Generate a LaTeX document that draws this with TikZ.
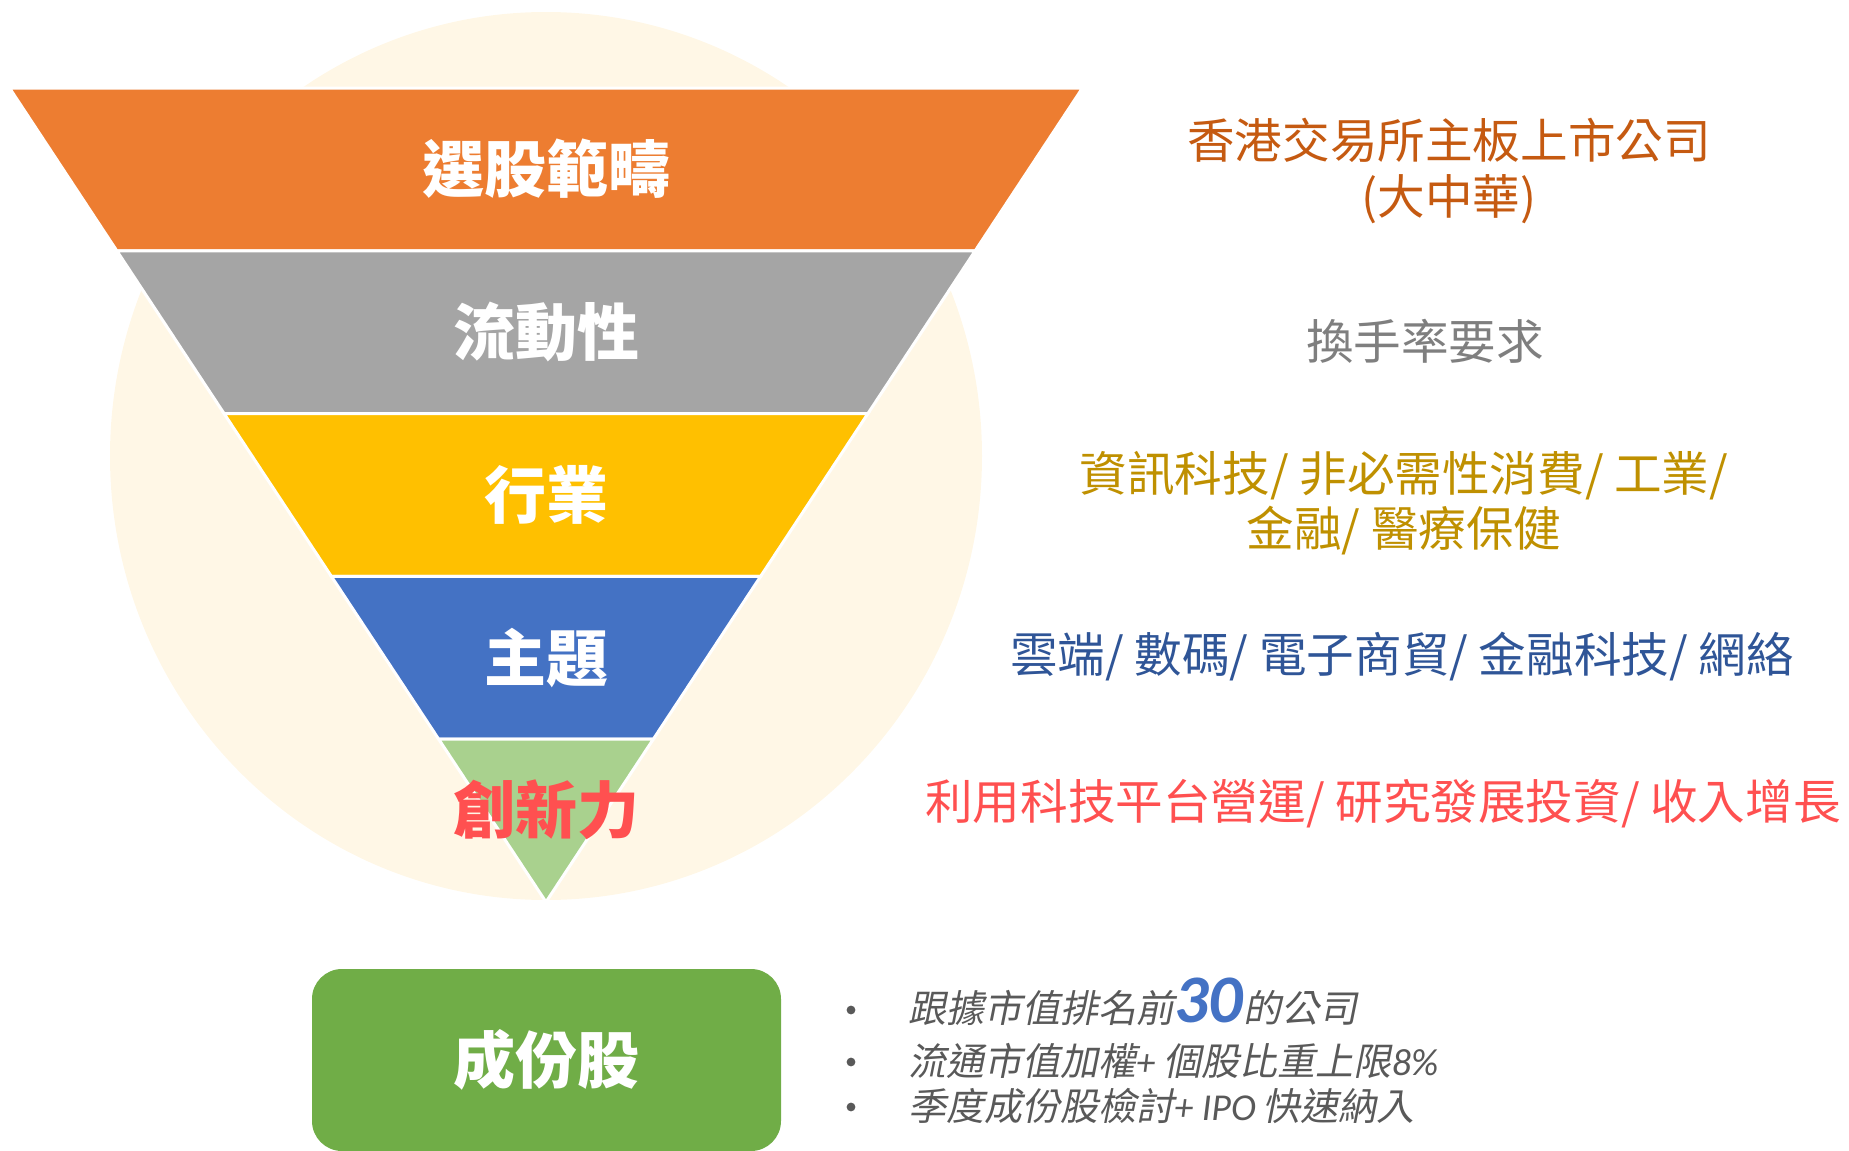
\documentclass[tikz,border=0pt]{standalone}
\usepackage{fontspec}
\setmainfont{Noto Sans CJK TC}
\newfontfamily\cjk{Noto Sans CJK TC}
\newfontfamily\cjkit[FakeSlant=0.2]{Noto Sans CJK TC}
\newfontfamily\calfont{Carlito}
\definecolor{cream}{HTML}{FFF7E6}
\definecolor{bOrange}{HTML}{ED7D31}
\definecolor{bGray}{HTML}{A5A5A5}
\definecolor{bYellow}{HTML}{FFC000}
\definecolor{bBlue}{HTML}{4472C4}
\definecolor{bGreen}{HTML}{A9D18E}
\definecolor{boxGreen}{HTML}{70AD47}
\definecolor{tOrange}{HTML}{C55A11}
\definecolor{tGray}{HTML}{7F7F7F}
\definecolor{tGold}{HTML}{BF9000}
\definecolor{tBlue}{HTML}{2F5597}
\definecolor{tRed}{HTML}{FF5050}
\definecolor{bulGray}{HTML}{595959}
\begin{document}
\begin{tikzpicture}[x=0.5pt,y=-0.5pt,
  band/.style={draw=white, line width=1.5pt, line join=miter},
  lbl/.style={font=\cjk\bfseries\fontsize{31}{36}\selectfont, text=white, inner sep=0pt},
  desc/.style={font=\cjk\fontsize{23.8}{27.7}\selectfont, align=center, inner sep=0pt},
  bul/.style={font=\cjkit\fontsize{19}{22}\selectfont, text=bulGray, anchor=base west,
              inner sep=0pt, text height=16pt, text depth=4pt},
  bdot/.style={circle, fill=bulGray, inner sep=0pt, minimum size=4.4pt}
]
\useasboundingbox (0,0) rectangle (1849,1151);
\fill[cream] (546,456) ellipse [x radius=218pt, y radius=222pt];

\path[band, fill=bOrange] (9.5,88) -- (1082.5,88) -- (975.2,250.8) -- (116.8,250.8) -- cycle;
\path[band, fill=bGray] (116.8,250.8) -- (975.2,250.8) -- (867.9,413.6) -- (224.1,413.6) -- cycle;
\path[band, fill=bYellow] (224.1,413.6) -- (867.9,413.6) -- (760.6,576.4) -- (331.4,576.4) -- cycle;
\path[band, fill=bBlue] (331.4,576.4) -- (760.6,576.4) -- (653.3,739.2) -- (438.7,739.2) -- cycle;
\path[band, fill=bGreen] (438.7,739.2) -- (653.3,739.2) -- (546,902) -- cycle;

\node[lbl] (l1) at (546,169) {選股範疇};
\node[lbl] (l2) at (546,332) {流動性};
\node[lbl] (l3) at (546,495) {行業};
\node[lbl] (l4) at (546,658) {主題};
\node[lbl, text=tRed] (l5) at (546,810) {創新力};

\node[desc, text=tOrange] (d1) at (1449,171) {香港交易所主板上市公司\\(大中華)};
\node[desc, text=tGray] (d2) at (1425,341) {換手率要求};
\node[desc, text=tGold] (d3) at (1404,503) {資訊科技/ 非必需性消費/ 工業/\\金融/ 醫療保健};
\node[desc, text=tBlue] (d4) at (1402,657) {雲端/ 數碼/ 電子商貿/ 金融科技/ 網絡};
\node[desc, text=tRed] (d5) at (1383,804) {利用科技平台營運/ 研究發展投資/ 收入增長};

\node[fill=boxGreen, rounded corners=15pt, minimum width=234.5pt, minimum height=91pt,
      font=\cjk\bfseries\fontsize{31}{36}\selectfont, text=white, inner sep=0pt] (box) at (546.5,1060) {成份股};

\node[bdot] (b1) at (851,1010) {};
\node[bdot] (b2) at (851,1062) {};
\node[bdot] (b3) at (851,1107) {};
\node[bul] (t1) at (908,1022) {跟據市值排名前{\calfont\bfseries\itshape\color{bBlue}\fontsize{34}{34}\selectfont 30}的公司};
\node[bul] (t2) at (908,1075) {流通市值加權{\calfont\itshape + }個股比重上限{\calfont\itshape 8\%}};
\node[bul] (t3) at (908,1120) {季度成份股檢討{\calfont\itshape + IPO}\,快速納入};
\end{tikzpicture}
\end{document}
